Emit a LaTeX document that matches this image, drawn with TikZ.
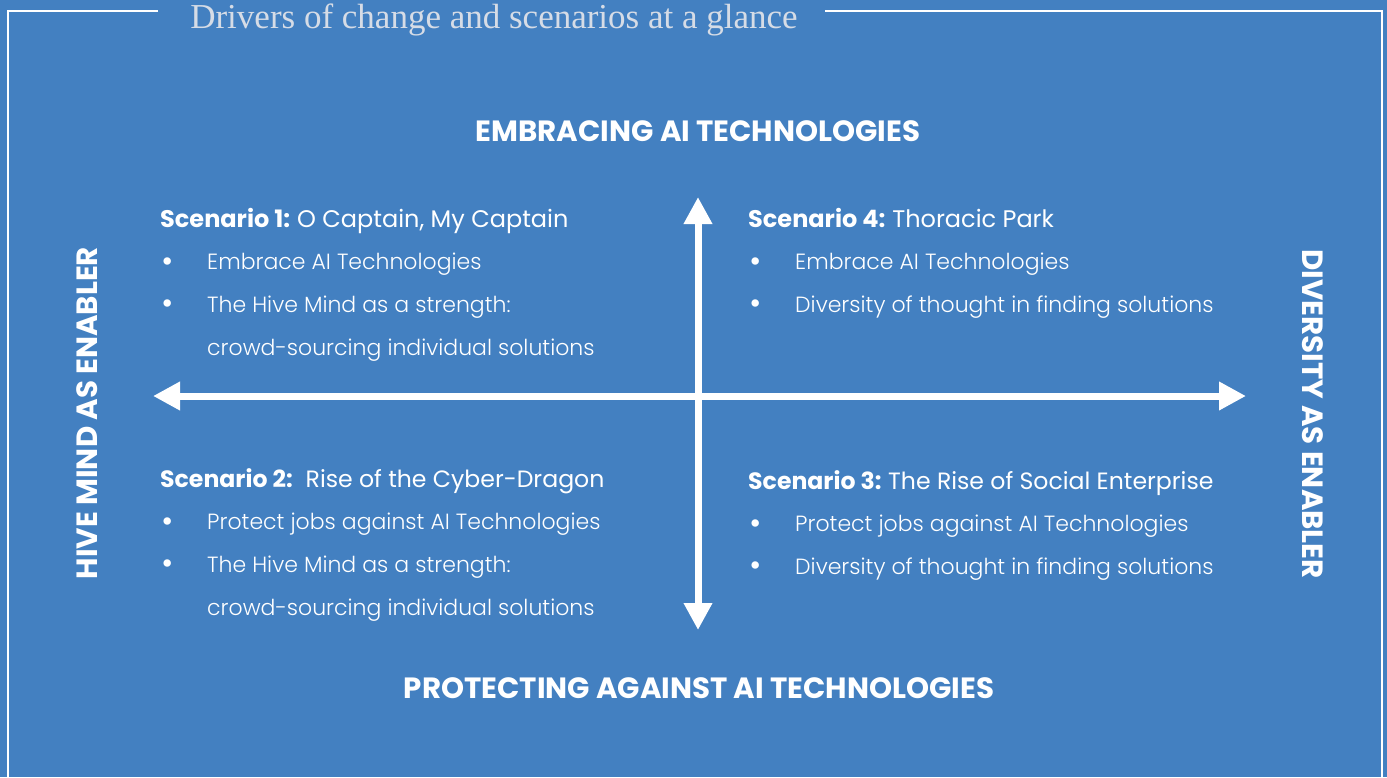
\documentclass[tikz,border=0pt]{standalone}
\usepackage{fontspec}
\setmainfont{Poppins}
\newfontfamily\lightfont{Poppins Light}
\newfontfamily\titlefont{Liberation Serif}
\usepackage{xcolor}
\definecolor{panelblue}{HTML}{4380C1}
\definecolor{titlegray}{HTML}{D6DCE6}
\usetikzlibrary{
  positioning,
  arrows.meta
}
% bullet of the scenario lists
\newcommand{\sbullet}{\hspace*{1pt}{\rmfamily\fontsize{30}{30}\selectfont\raisebox{-1.5pt}{\textbullet}}}

\begin{document}
\begin{tikzpicture}[
  x=1pt, y=-1pt,
  axis/.style={
    line width=7pt, white,
    {Triangle[length=27pt,width=27pt]}-{Triangle[length=27pt,width=27pt]}
  },
  axislabel/.style={
    inner sep=0pt, text=white, font=\fontsize{29.3}{34}\selectfont\bfseries
  },
  scen/.style={
    anchor=base west, inner sep=0pt, text=white,
    font=\fontsize{22}{42.7}\selectfont\lightfont
  }
]

% background and frame
\fill[panelblue] (0,0) rectangle (1387,777);
\useasboundingbox (0,0) rectangle (1387,777);
\draw[white, line width=2.5pt] (158,11) -- (8,11) -- (8,777);
\draw[white, line width=2.5pt] (825,11) -- (1382,11) -- (1382,777);
\node[anchor=base, inner sep=0pt, text=titlegray,
  font=\fontsize{35}{40}\selectfont\titlefont] (title) at (494,28)
  {Drivers of change and scenarios at a glance};

% axes
\coordinate (ntip) at (698,197);
\coordinate (stip) at (698,630);
\coordinate (wtip) at (153,396);
\coordinate (etip) at (1246,396);
\draw[axis] (ntip) -- (stip);
\draw[axis] (wtip) -- (etip);

\node[axislabel] (embrace) at (698,131) {EMBRACING AI TECHNOLOGIES};
\node[axislabel] (protect) at (699,688) {PROTECTING AGAINST AI TECHNOLOGIES};
\node[axislabel, rotate=90] (hive) at (87,413) {HIVE MIND AS ENABLER};
\node[axislabel, rotate=-90] (diversity) at (1313,414) {DIVERSITY AS ENABLER};

% the four scenarios
\node[scen] (s1) at (160,227) {%
  \begin{tabular}[t]{@{}p{47pt}@{}l@{}}
  \multicolumn{2}{@{}l@{}}{\fontsize{24}{30}\selectfont\rmfamily\bfseries Scenario 1: \mdseries O Captain, My Captain}\\
  \sbullet & Embrace AI Technologies\\
  \sbullet & The Hive Mind as a strength:\\
  & crowd-sourcing individual solutions
  \end{tabular}};
\node[scen] (s4) at (748,227) {%
  \begin{tabular}[t]{@{}p{47pt}@{}l@{}}
  \multicolumn{2}{@{}l@{}}{\fontsize{24}{30}\selectfont\rmfamily\bfseries Scenario 4: \mdseries Thoracic Park}\\
  \sbullet & Embrace AI Technologies\\
  \sbullet & Diversity of thought in finding solutions
  \end{tabular}};
\node[scen] (s2) at (160,487) {%
  \begin{tabular}[t]{@{}p{47pt}@{}l@{}}
  \multicolumn{2}{@{}l@{}}{\fontsize{23.6}{30}\selectfont\rmfamily\bfseries Scenario 2: \mdseries\ Rise of the Cyber-Dragon}\\
  \sbullet & Protect jobs against AI Technologies\\
  \sbullet & The Hive Mind as a strength:\\
  & crowd-sourcing individual solutions
  \end{tabular}};
\node[scen] (s3) at (748,489) {%
  \begin{tabular}[t]{@{}p{47pt}@{}l@{}}
  \multicolumn{2}{@{}l@{}}{\fontsize{23.6}{30}\selectfont\rmfamily\bfseries Scenario 3: \mdseries The Rise of Social Enterprise}\\
  \sbullet & Protect jobs against AI Technologies\\
  \sbullet & Diversity of thought in finding solutions
  \end{tabular}};

\end{tikzpicture}
\end{document}
